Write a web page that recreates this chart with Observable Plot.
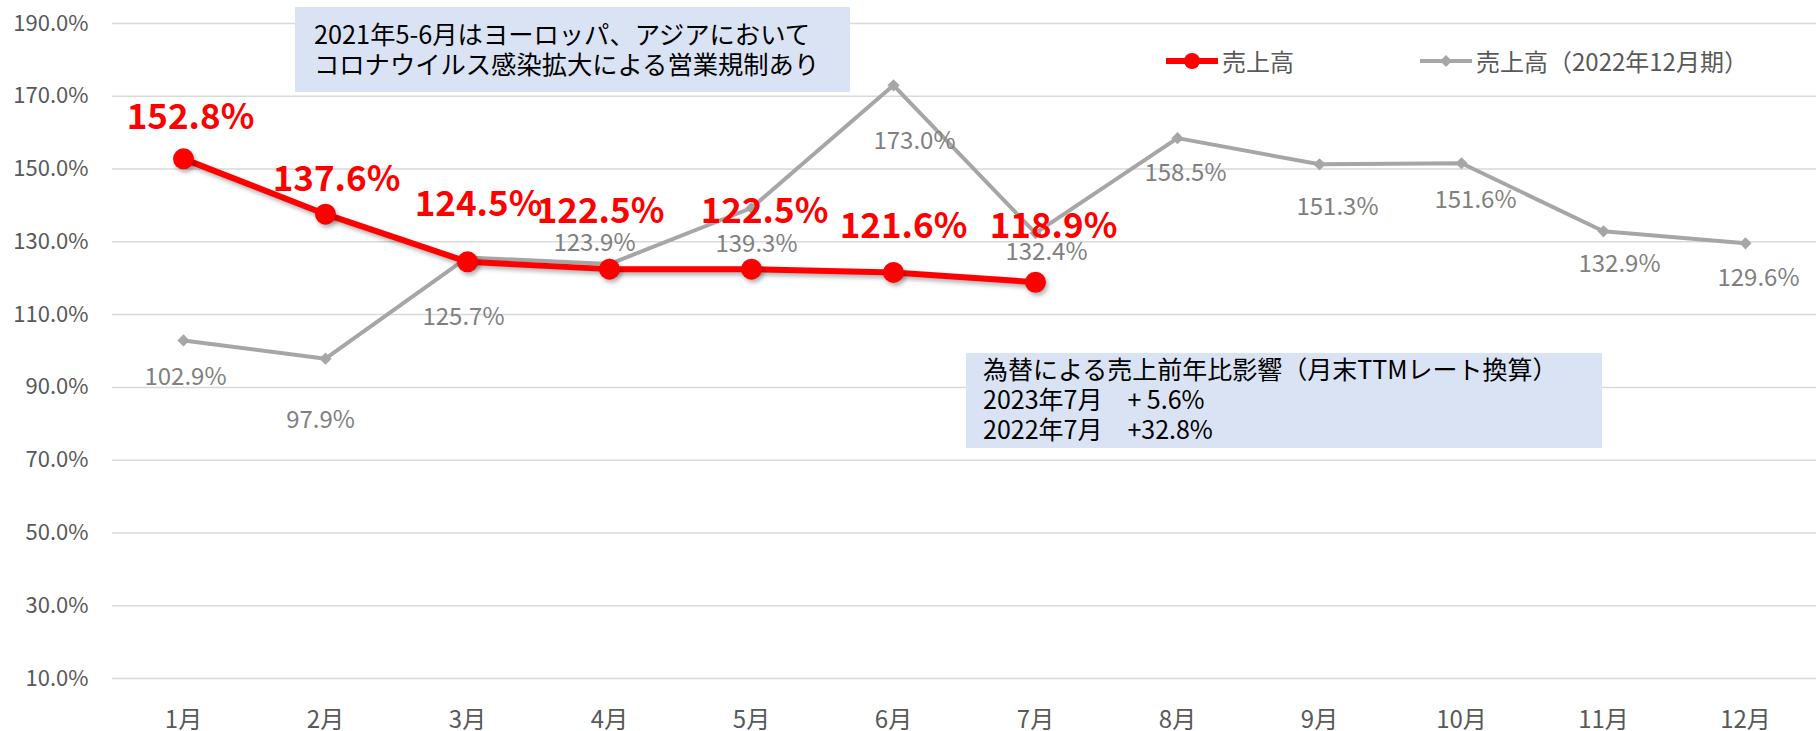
<!DOCTYPE html>
<html><head><meta charset="utf-8">
<script src="https://cdn.jsdelivr.net/npm/d3@7"></script>
<script src="https://cdn.jsdelivr.net/npm/@observablehq/plot@0.6"></script>
<style>
body{margin:0;background:#fff;}
#wrap{position:relative;width:1818px;height:731px;font-family:"Noto Sans CJK JP","Noto Sans",sans-serif;}
#wrap svg.chart{position:absolute;left:0;top:0;}
.box{position:absolute;background:#DAE3F3;color:#000;box-sizing:border-box;white-space:nowrap;}
.leg{position:absolute;font-size:24px;color:#595959;line-height:30px;white-space:nowrap;}
</style></head>
<body><div id="wrap"></div>
<script>
const months = ["1月","2月","3月","4月","5月","6月","7月","8月","9月","10月","11月","12月"];
const sales = [152.8,137.6,124.5,122.5,122.5,121.6,118.9];
const salesPrev = [102.9,97.9,125.7,123.9,139.3,173.0,132.4,158.5,151.3,151.6,132.9,129.6];
const yTicks = [10,30,50,70,90,110,130,150,170,190];
const seriesNames = ["売上高","売上高（2022年12月期）"];
const note1 = ["2021年5-6月はヨーロッパ、アジアにおいて","コロナウイルス感染拡大による営業規制あり"];
const note2 = ["為替による売上前年比影響（月末TTMレート換算）","2023年7月　+ 5.6%","2022年7月　+32.8%"];

// label nudges (layout only)
const salesNudge = [[7,-41],[11,-34],[11,-57],[-9,-57],[13,-57],[10,-46],[18,-55]];
const prevNudge = [[2,37],[-5,62],[-4,60],[-15,-21],[5,36],[21,56],[11,19],[8,35],[18,43],[14,37],[16,33],[13,35]];

const cur = sales.map((v,i)=>({month:months[i], value:v}));
const prev = salesPrev.map((v,i)=>({month:months[i], value:v}));
const fmt = v => v.toFixed(1) + "%";
const FONT = '"Noto Sans CJK JP","Noto Sans",sans-serif';

const chart = Plot.plot({
  width:1818, height:731,
  marginLeft:112, marginRight:2, marginTop:23, marginBottom:53,
  style:{fontFamily:FONT, background:"transparent", overflow:"visible"},
  x:{type:"point", domain:months, padding:0.5},
  y:{domain:[10,190]},
  marks:[
    Plot.gridY(yTicks,{stroke:"#d9d9d9", strokeOpacity:1, strokeWidth:1.5}),
    Plot.axisY(yTicks,{tickSize:0, tickPadding:24, tickFormat:fmt, fontSize:22, fill:"#595959", label:null}),
    Plot.axisX({tickSize:0, tickPadding:32, fontSize:24, fill:"#595959", label:null}),
    Plot.line(prev,{x:"month", y:"value", stroke:"#a6a6a6", strokeWidth:4}),
    Plot.dot(prev,{x:"month", y:"value", symbol:"diamond2", r:5.5, fill:"#a6a6a6"}),
    ...prev.map((d,i)=>Plot.text([d],{x:"month", y:"value", text:d=>fmt(d.value),
        dx:prevNudge[i][0], dy:prevNudge[i][1], fontSize:24, fill:"#808080"})),
    Plot.line(cur,{x:"month", y:"value", stroke:"#ff0000", strokeWidth:6}),
    Plot.dot(cur,{x:"month", y:"value", r:10.5, fill:"#ff0000"}),
    ...cur.map((d,i)=>Plot.text([d],{x:"month", y:"value", text:d=>fmt(d.value),
        dx:salesNudge[i][0], dy:salesNudge[i][1], fontSize:35, fontWeight:"bold", fill:"#ff0000"}))
  ]
});
chart.classList.add("chart");
const wrap = document.getElementById("wrap");
wrap.appendChild(chart);

// subtle shadow on red series
const lines = chart.querySelectorAll('g[aria-label="line"]');
if (lines.length > 1) lines[1].style.filter = "drop-shadow(2px 3px 2px rgba(0,0,0,0.3))";
const dots = chart.querySelectorAll('g[aria-label="dot"]');
if (dots.length > 1) dots[1].style.filter = "drop-shadow(2px 3px 2px rgba(0,0,0,0.3))";

// annotation boxes
function box(lines, left, top, w, h, padL, padT, fs, lh){
  const b = document.createElement("div");
  b.className = "box";
  Object.assign(b.style,{left:left+"px", top:top+"px", width:w+"px", height:h+"px",
    paddingLeft:padL+"px", paddingTop:padT+"px", fontSize:fs+"px", lineHeight:lh+"px"});
  lines.forEach(t=>{const d=document.createElement("div"); d.textContent=t; b.appendChild(d);});
  wrap.appendChild(b);
}
box(note1, 295, 7, 555, 85, 19, 11, 25.3, 30);
box(note2, 966, 353, 636, 95, 17, 0, 25, 30);

// legend
function legend(left, name, kind){
  const ns = "http://www.w3.org/2000/svg";
  const s = document.createElementNS(ns,"svg");
  s.setAttribute("width",52); s.setAttribute("height",24);
  s.style.position="absolute"; s.style.left=left+"px"; s.style.top="49px";
  const l = document.createElementNS(ns,"line");
  l.setAttribute("x1",0); l.setAttribute("x2",52); l.setAttribute("y1",12); l.setAttribute("y2",12);
  l.setAttribute("stroke", kind==="red" ? "#ff0000" : "#a6a6a6");
  l.setAttribute("stroke-width", kind==="red" ? 6 : 4);
  s.appendChild(l);
  if (kind==="red"){
    const c = document.createElementNS(ns,"circle");
    c.setAttribute("cx",26); c.setAttribute("cy",12); c.setAttribute("r",8); c.setAttribute("fill","#ff0000");
    s.appendChild(c);
  } else {
    const p = document.createElementNS(ns,"path");
    p.setAttribute("d","M26,6L32,12L26,18L20,12Z"); p.setAttribute("fill","#a6a6a6");
    s.appendChild(p);
  }
  wrap.appendChild(s);
  const t = document.createElement("div");
  t.className="leg"; t.textContent=name;
  t.style.left=(left+56)+"px"; t.style.top="46px";
  wrap.appendChild(t);
}
legend(1166, seriesNames[0], "red");
legend(1420, seriesNames[1], "gray");
</script>
</body></html>
